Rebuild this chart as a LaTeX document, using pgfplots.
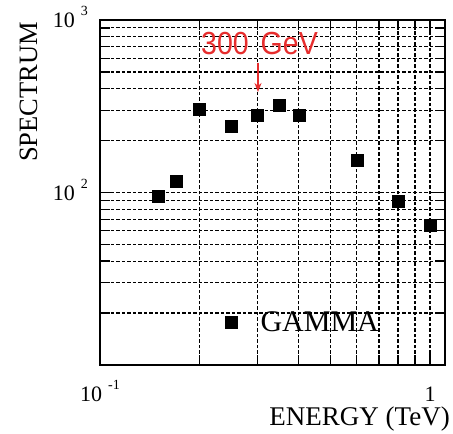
\documentclass[border=0pt]{standalone}
\usepackage{pgfplots}
\pgfplotsset{compat=1.18}
\usepackage{fontspec}
\setmainfont{Liberation Serif}
\newfontfamily\arialfont{Liberation Sans}
\usetikzlibrary{arrows.meta}
\definecolor{annred}{RGB}{230,45,45}
\newcommand{\tl}[1]{\fontsize{22}{22}\selectfont 10\hspace{6pt}\raisebox{12pt}{\fontsize{14}{14}\selectfont #1}}
\begin{document}
\begin{tikzpicture}[x=1pt,y=1pt]
\path[use as bounding box] (0,0) rectangle (453,434);
\begin{loglogaxis}[
  at={(100pt,69pt)}, anchor=south west,
  scale only axis, width=345pt, height=345pt,
  xmin=0.1, xmax=1.11, ymin=10, ymax=1000,
  xtick={0.1,1},
  xticklabels={{\tl{-1}}, {\fontsize{22}{22}\selectfont 1}},
  minor xtick={0.2,0.3,0.4,0.5,0.6,0.7,0.8,0.9},
  ytick={100,1000},
  yticklabels={{\tl{2}}, {\tl{3}}},
  minor ytick={20,30,40,50,60,70,80,90,200,300,400,500,600,700,800,900},
  tick label style={inner sep=0pt},
  xticklabel style={anchor=base, yshift=-37pt},
  yticklabel style={anchor=base east, xshift=-12pt, yshift=-8pt},
  grid=both,
  major grid style={black, line width=1.2pt, dash pattern=on 3.5pt off 2pt},
  minor grid style={black, line width=1.2pt, dash pattern=on 3.5pt off 2pt},
  axis line style={line width=1.3pt},
  every tick/.style={black, line width=1.3pt},
  major tick length=14pt, minor tick length=10pt,
  tick align=inside,
  legend style={draw=none, fill=none, inner sep=0pt, outer sep=0pt,
    at={(rel axis cs:0.364,0.125)}, anchor=west,
    font=\fontsize{30}{30}\selectfont,
    /tikz/every odd column/.append style={column sep=21pt}},
  legend cell align=left,
]
\addplot[only marks, mark=square*, mark size=6pt, mark options={fill=black, draw=black, line width=0.3pt}]
coordinates {
(0.15,95) (0.17,116) (0.2,306) (0.25,244) (0.3,279) (0.35,322) (0.4,282) (0.6,153) (0.8,89) (1.0,64.5)
};
\addlegendentry{GAMMA}
\end{loglogaxis}
\node[rotate=90, anchor=base, font=\fontsize{26.5}{26.5}\selectfont, inner sep=0pt] at (37,342) {SPECTRUM};
\node[anchor=base east, font=\fontsize{27}{27}\selectfont, inner sep=0pt] at (450,8) {ENERGY (TeV)};
\node[anchor=base, text=annred, inner sep=0pt] at (259.5,379) {\scalebox{1}[1.12]{\arialfont\fontsize{28.5}{28.5}\selectfont 300\hspace{12pt}GeV}};
\draw[annred, line width=2pt, -{Stealth[length=9pt,width=7pt]}] (258,371) -- (258,342);
\end{tikzpicture}
\end{document}
